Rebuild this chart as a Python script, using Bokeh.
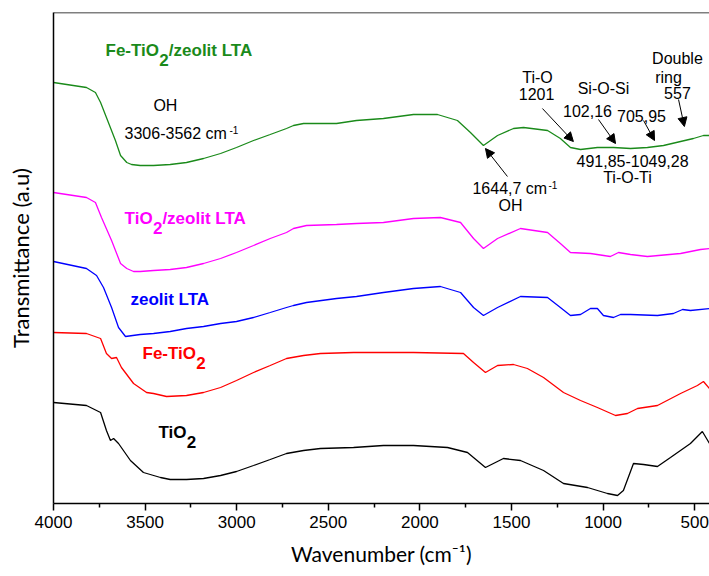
from bokeh.plotting import figure
from bokeh.models import Range1d, FixedTicker, Span, Arrow, NormalHead
from bokeh.core.properties import value
from bokeh.embed import file_html
from bokeh.resources import INLINE

# ---------------- data (wavenumber cm-1, transmittance a.u., offset curves) -------------
wn_fe_tio2_lta = [4000, 3820, 3771, 3743, 3711, 3662, 3634, 3600, 3574, 3527, 3454, 3363, 3274,
                  3181, 3088, 3001, 2908, 2817, 2728, 2690, 2635, 2455, 2346, 2199, 2035, 1904,
                  1795, 1724, 1653, 1576, 1489, 1434, 1303, 1233, 1178, 1123, 1031, 943, 850,
                  758, 670, 577, 507, 452, 419]
t_fe_tio2_lta = [421, 416, 411, 401, 386, 363, 348, 341, 339, 338, 338, 339, 341,
                 345, 350, 356, 363, 369, 375, 378, 380, 380, 383, 385, 389, 389,
                 383, 371, 358, 368, 375, 376, 373, 365, 356, 354, 356, 356, 355,
                 356, 358, 362, 365, 368, 368]

wn_tio2_lta = [4000, 3820, 3771, 3738, 3683, 3634, 3600, 3563, 3527, 3454, 3363, 3274, 3181,
               3088, 3001, 2908, 2817, 2728, 2690, 2619, 2455, 2346, 2199, 2035, 1888, 1778,
               1707, 1653, 1576, 1451, 1303, 1233, 1178, 1069, 960, 916, 850, 758, 577, 468, 419]
t_tio2_lta = [311, 306, 301, 286, 263, 240, 235, 232, 232, 233, 234, 236, 240,
              245, 251, 258, 265, 271, 275, 278, 279, 280, 281, 285, 286, 281,
              265, 255, 265, 275, 271, 260, 251, 250, 247, 251, 249, 247, 250, 254, 255]

wn_lta = [4000, 3820, 3765, 3727, 3683, 3645, 3607, 3527, 3454, 3363, 3274, 3181, 3088, 3001,
          2908, 2817, 2728, 2690, 2619, 2455, 2346, 2199, 2035, 1888, 1778, 1707, 1653, 1576,
          1451, 1303, 1233, 1178, 1123, 1069, 1031, 998, 943, 905, 850, 703, 616, 566, 523, 419]
t_lta = [242, 235, 228, 216, 196, 176, 167, 169, 170, 172, 175, 177, 180, 182,
         186, 191, 196, 198, 201, 205, 207, 211, 215, 217, 211, 196, 188, 196,
         207, 206, 196, 188, 189, 195, 195, 188, 186, 189, 189, 188, 190, 194, 193, 195]

wn_fe_tio2 = [4000, 3820, 3743, 3711, 3683, 3656, 3629, 3563, 3492, 3454, 3383, 3274, 3181,
              3088, 3001, 2908, 2817, 2728, 2635, 2543, 2362, 2199, 2035, 1762, 1707, 1642,
              1576, 1489, 1413, 1325, 1216, 1123, 1031, 932, 867, 812, 703, 577, 485, 452, 419]
t_fe_tio2 = [171, 170, 165, 150, 145, 146, 136, 120, 111, 110, 107, 108, 111,
             116, 123, 131, 138, 145, 148, 150, 151, 151, 151, 150, 141, 131,
             138, 139, 135, 126, 111, 103, 96, 88, 90, 95, 98, 110, 118, 122, 115]

wn_tio2 = [4000, 3820, 3743, 3711, 3689, 3672, 3645, 3580, 3509, 3416, 3363, 3274, 3181, 3088,
           3001, 2908, 2817, 2728, 2635, 2543, 2362, 2199, 2035, 1849, 1740, 1642, 1544, 1451,
           1325, 1216, 1085, 976, 921, 889, 834, 779, 703, 632, 523, 458, 419]
t_tio2 = [101, 98, 91, 73, 63, 65, 60, 43, 31, 26, 24, 24, 25, 28,
          32, 38, 44, 50, 53, 55, 56, 58, 58, 56, 51, 36, 45, 43,
          33, 20, 16, 10, 8, 13, 40, 39, 37, 46, 60, 72, 60]

x_ticks = [4000, 3500, 3000, 2500, 2000, 1500, 1000, 500]
x_minor = [3750, 3250, 2750, 2250, 1750, 1250, 750]

SANS = "Liberation Sans"
TITLE_FONT = "Lato"

p = figure(width=709, height=576, output_backend="svg", toolbar_location=None,
           x_range=Range1d(4000, 419), y_range=Range1d(0, 491),
           min_border_left=53, min_border_right=0, min_border_top=12, min_border_bottom=73)
p.outline_line_color = None
p.grid.visible = False
p.background_fill_color = "white"
p.border_fill_color = "white"

# curves
series = [
    (wn_fe_tio2_lta, t_fe_tio2_lta, "#1a8a1a"),
    (wn_tio2_lta, t_tio2_lta, "#ff00ff"),
    (wn_lta, t_lta, "#0000ff"),
    (wn_fe_tio2, t_fe_tio2, "#ff0000"),
    (wn_tio2, t_tio2, "#000000"),
]
for wx, ty, col in series:
    p.line(wx, ty, line_color=col, line_width=1.3)

# axes
xa = p.xaxis[0]
xa.ticker = FixedTicker(ticks=x_ticks, minor_ticks=x_minor)
xa.axis_label = "Wavenumber (cm\u207b\u00b9)"
xa.axis_label_text_font = TITLE_FONT
xa.axis_label_text_font_size = "21px"
xa.axis_label_text_font_style = "normal"
xa.axis_label_text_color = "black"
xa.axis_label_standoff = 10
xa.major_label_text_font = SANS
xa.major_label_text_font_size = "17px"
xa.major_label_text_color = "black"
xa.major_label_standoff = 5
xa.axis_line_width = 1.5
xa.axis_line_color = "black"
xa.major_tick_in = 0
xa.major_tick_out = 7
xa.minor_tick_in = 0
xa.minor_tick_out = 4
xa.major_tick_line_width = 1.5
xa.minor_tick_line_width = 1.5

ya = p.yaxis[0]
ya.ticker = FixedTicker(ticks=[])
ya.axis_label = "Transmittance (a.u)"
ya.axis_label_text_font = TITLE_FONT
ya.axis_label_text_font_size = "22px"
ya.axis_label_text_font_style = "normal"
ya.axis_label_text_color = "black"
ya.axis_label_standoff = 20
ya.major_tick_out = 0
ya.major_tick_in = 0
ya.minor_tick_out = 0
ya.minor_tick_in = 0
ya.major_label_standoff = 0
ya.axis_line_width = 1.5
ya.axis_line_color = "black"

p.add_layout(Span(location=491, dimension="width", line_color="black", line_width=1.5))


def txt(x, y, s, size="16px", color="black", align="center", bold=False, x_off=0):
    p.text(x=[x], y=[y], text=[s], text_font=value(SANS), text_font_size=size,
           text_color=color, text_align=align, text_baseline="middle",
           text_font_style="bold" if bold else "normal", x_offset=x_off)


def sample_label(x, y, head, tail, color, head_w):
    txt(x, y, head, size="17px", color=color, align="left", bold=True)
    txt(x, y - 9, "2", size="17px", color=color, align="left", bold=True, x_off=head_w)
    if tail:
        txt(x, y, tail, size="17px", color=color, align="left", bold=True, x_off=head_w + 9.5)


sample_label(3716, 453, "Fe-TiO", "/zeolit LTA", "#1a8a1a", 53.8)
sample_label(3612, 285, "TiO", "/zeolit LTA", "#ff00ff", 28.3)
txt(3580, 204, "zeolit LTA", size="17px", color="#0000ff", align="left", bold=True)
sample_label(3514, 150, "Fe-TiO", "", "#ff0000", 53.8)
sample_label(3427, 71, "TiO", "", "#000000", 28.3)

# peak annotations
txt(3389, 398, "OH")
txt(3612, 370, "3306-3562 cm", align="left")
txt(3039, 374, "-1", size="10px", align="left")
txt(1713, 315, "1644,7 cm", align="left")
txt(1298, 319, "-1", size="10px", align="left")
txt(1505, 298, "OH")
txt(1358, 426, "Ti-O")
txt(1363, 410, "1201")
txt(998, 415, "Si-O-Si")
txt(1085, 393, "102,16")
txt(790, 388, "705,95")
txt(594, 445, "Double")
txt(643, 426, "ring")
txt(594, 411, "557")
txt(839, 343, "491,85-1049,28")
txt(867, 326, "Ti-O-Ti")

arrows = [
    (1522, 327, 1642, 355),
    (1331, 395, 1162, 362),
    (1025, 384, 932, 360),
    (779, 383, 719, 363),
    (588, 404, 556, 377),
]
for xs, ys, xe, ye in arrows:
    p.add_layout(Arrow(end=NormalHead(size=9, fill_color="black", line_color="black", line_width=1),
                       x_start=xs, y_start=ys, x_end=xe, y_end=ye,
                       line_color="black", line_width=1))

open("out.html", "w").write(file_html(p, INLINE))
